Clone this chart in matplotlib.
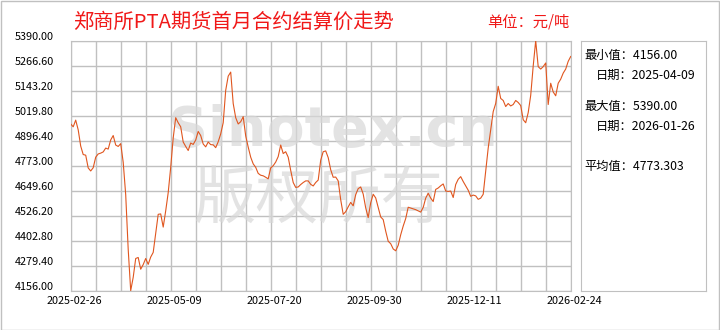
import numpy as np
import matplotlib
matplotlib.use("Agg")
import matplotlib.pyplot as plt
from matplotlib.transforms import ScaledTranslation
from matplotlib.patches import Rectangle

plt.rcParams['font.family'] = ['Noto Sans CJK SC', 'DejaVu Sans']

title = "郑商所PTA期货首月合约结算价走势"
unit = "单位：元/吨"

# 结算价 (元/吨), 2025-02-26 .. 2026-02-24
settle = [
    4979, 4965, 4998, 4950, 4870, 4828, 4825, 4762, 4747, 4763,
    4815, 4831, 4835, 4841, 4860, 4855, 4900, 4922, 4875, 4868,
    4882, 4790, 4630, 4360, 4156, 4222, 4315, 4320, 4262, 4285,
    4315, 4286, 4322, 4345,
    4440, 4533, 4535, 4470, 4550, 4640, 4765, 4910, 5010, 4985,
    4965, 4890, 4868, 4848, 4885, 4878, 4900, 4942, 4922, 4880,
    4866, 4890, 4877, 4876, 4862, 4891, 4930, 4985, 5145, 5215,
    5235, 5080, 5010, 4979,
    4990, 5015, 4920, 4865, 4815, 4782, 4765, 4735, 4726, 4723,
    4716, 4708, 4762, 4773, 4791, 4818, 4875, 4833, 4842, 4815,
    4750, 4690, 4666, 4668, 4680, 4690, 4698, 4698, 4681, 4673,
    4690, 4702, 4800,
    4842, 4846, 4813, 4753, 4716, 4717, 4698, 4605, 4533, 4546,
    4570, 4592, 4575, 4630, 4660, 4668, 4633, 4565, 4517, 4590,
    4632, 4614, 4567, 4520, 4507, 4450, 4400, 4388, 4362, 4353,
    4380, 4432, 4475, 4512,
    4568, 4564, 4560, 4556, 4550, 4544, 4567, 4613, 4637, 4613,
    4596, 4656, 4663, 4674, 4683, 4648, 4646, 4648, 4616, 4680,
    4706, 4719, 4695, 4674, 4652, 4622, 4628, 4624, 4607, 4613,
    4632, 4745, 4860,
    4950, 5040, 5080, 5165, 5105, 5095, 5065, 5080, 5068, 5075,
    5095, 5085, 5070, 5000, 4985, 5035, 5120, 5265, 5390, 5262,
    5250, 5262, 5280, 5075, 5180, 5137, 5118, 5180, 5200, 5230,
    5250, 5288, 5312,
]

date_labels = ["2025-02-26", "2025-05-09", "2025-07-20",
               "2025-09-30", "2025-12-11", "2026-02-24"]

stat_lines = ["最小值：4156.00", "日期：2025-04-09",
              "最大值：5390.00", "日期：2026-01-26",
              "平均值：4773.303"]

W, H = 720, 330
fig = plt.figure(figsize=(W / 100, H / 100), dpi=100)

def px(x, y):
    return x / W, 1 - y / H

gray = "#c0c0c0"

ax = fig.add_axes([70.7 / W, 39.3 / H, 500 / W, 250 / H])
n = len(settle)
x = np.arange(n)
ax.plot(x, settle, color="#e0561f", lw=0.8, zorder=3)
ax.set_xlim(0, n - 1)
ymin, ymax = 4156, 5390
ax.set_ylim(ymin, ymax)

yt = np.linspace(ymin, ymax, 11)
ax.set_yticks(yt)
ax.set_yticklabels(["%.2f" % v for v in yt])
step = (n - 1) / 20
ax.set_xticks(np.arange(0, n, step * 4))
ax.set_xticklabels(date_labels)
ax.set_xticks(np.arange(0, n, step), minor=True)
ax.grid(True, which="both", color=gray, lw=1)
ax.tick_params(which="both", length=0)
ax.tick_params(axis="y", labelsize=7.8, pad=12)
ax.tick_params(axis="x", labelsize=7.8, pad=4)
for s in ax.spines.values():
    s.set_color(gray)

off_y = ScaledTranslation(0, 4.5 / 100, fig.dpi_scale_trans)
for lab in ax.get_yticklabels():
    lab.set_transform(lab.get_transform() + off_y)
off_x = ScaledTranslation(3.5 / 100, 0, fig.dpi_scale_trans)
for lab in ax.get_xticklabels():
    lab.set_transform(lab.get_transform() + off_x)

# watermark
ax.text(0.525, 0.64, "Sinotex.cn", transform=ax.transAxes, ha="center",
        va="center", fontsize=40, fontweight="bold", family="DejaVu Sans",
        color="#d8d8d8", alpha=0.7, zorder=2)
ax.text(0.495, 0.36, "版权所有", transform=ax.transAxes, ha="center",
        va="center", fontsize=45, color="#d8d8d8", alpha=0.7, zorder=2)

# stats box
lx = fig.add_axes([580.7 / W, 39.3 / H, 125 / W, 250 / H])
lx.set_xticks([])
lx.set_yticks([])
for s in lx.spines.values():
    s.set_color(gray)
stat_pos = [(584, 56), (596, 75.7), (584, 106), (596, 126.7), (584, 166)]
for txt, (tx, ty) in zip(stat_lines, stat_pos):
    fig.text(*px(tx, ty), txt, ha="left", va="center", fontsize=8.8)

fig.text(*px(73, 22), title, ha="left", va="center", fontsize=14.6,
         color="#f01818")
fig.text(*px(487, 22), unit, ha="left", va="center", fontsize=11,
         color="#f01818")

fig.patches.append(Rectangle((0.5 / W, 0.5 / H), 1 - 1.5 / W, 1 - 1.5 / H,
                             transform=fig.transFigure, fill=False,
                             ec=gray, lw=1))

fig.savefig("out.png", dpi=100)
